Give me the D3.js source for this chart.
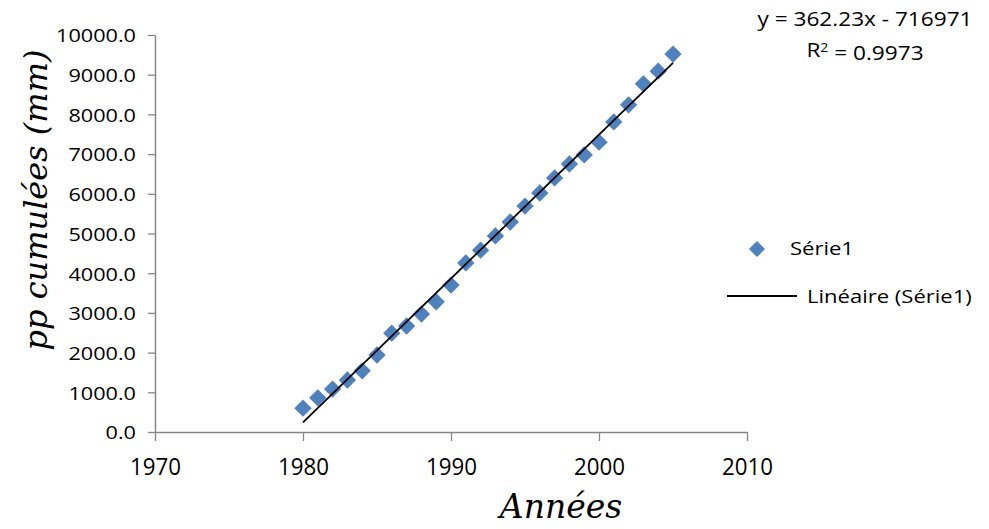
<!DOCTYPE html>
<html lang="fr">
  <head>
    <meta charset="UTF-8" />
    <title>pp cumulées</title>
    <script src="https://d3js.org/d3.v7.min.js"></script>
    <style>
      body { margin: 0; background: #fff; }
      .chart text { fill: #000; }
    </style>
  </head>
  <body>
    <div class="chart"></div>
  </body>

  <script>
    // data
    var years = [1980, 1981, 1982, 1983, 1984, 1985, 1986, 1987, 1988, 1989,
      1990, 1991, 1992, 1993, 1994, 1995, 1996, 1997, 1998, 1999,
      2000, 2001, 2002, 2003, 2004, 2005];
    var cumul = [600, 860, 1080, 1310, 1540, 1940, 2490, 2670, 2970, 3280,
      3700, 4260, 4580, 4940, 5290, 5690, 6020, 6400, 6750, 6980,
      7300, 7810, 8240, 8770, 9090, 9520];
    var xTicks = [1970, 1980, 1990, 2000, 2010];
    var yTicks = [0, 1000, 2000, 3000, 4000, 5000, 6000, 7000, 8000, 9000, 10000];
    // trend line coefficients (printed on the chart)
    var slope = 362.23, intercept = -716971, r2 = 0.9973;

    var W = 989, H = 529;
    var margin = { top: 35, left: 155, right: 242, bottom: 97 };
    var width = W - margin.left - margin.right;
    var height = H - margin.top - margin.bottom;

    var svgContainer = d3.select(".chart").append("svg")
      .attr("width", W).attr("height", H);
    var svg = svgContainer.append("g")
      .attr("transform", "translate(" + margin.left + "," + margin.top + ")");

    var x = d3.scaleLinear().domain([1970, 2010]).range([0, width]);
    var y = d3.scaleLinear().domain([0, 10000]).range([height, 0]);

    var axisColor = "#868686";
    var textFont = "'Open Sans', sans-serif";
    var wide = 1.16; // the labels in the picture are stretched sideways

    // Y axis
    var yAxis = svg.append("g")
      .call(d3.axisLeft(y).tickValues(yTicks).tickSize(7).tickSizeOuter(0)
        .tickFormat(d3.format(".1f")));
    // X axis
    var xAxis = svg.append("g")
      .attr("transform", "translate(0," + height + ")")
      .call(d3.axisBottom(x).tickValues(xTicks).tickSize(9).tickSizeOuter(0)
        .tickFormat(d3.format("d")));

    [yAxis, xAxis].forEach(function (a) {
      a.select(".domain").attr("stroke", axisColor).attr("stroke-width", 1.5);
      a.selectAll(".tick line").attr("stroke", axisColor).attr("stroke-width", 1.3);
      a.selectAll(".tick text").attr("font-family", textFont).attr("fill", "#000");
    });
    yAxis.selectAll(".tick text")
      .attr("font-size", 19)
      .attr("x", 0).attr("dy", "0.36em")
      .attr("transform", "translate(-19,0) scale(" + 1.14 + ",1)");
    xAxis.selectAll(".tick text")
      .attr("font-size", 24.5)
      .attr("y", 0).attr("dy", "0.36em")
      .attr("transform", "translate(0,34) scale(0.91,1)");

    // points as diamonds
    var diamond = d3.symbol().type(d3.symbolSquare).size(150);
    svg.selectAll(".pt")
      .data(years)
      .enter()
      .append("path")
      .attr("class", "pt")
      .attr("d", diamond)
      .attr("fill", "#4F81BD")
      .attr("transform", function (d, i) {
        return "translate(" + x(d) + "," + y(cumul[i]) + ") rotate(45)";
      });

    // trend line, over the markers
    var x0 = d3.min(years), x1 = d3.max(years);
    var trend = [[x0, slope * x0 + intercept], [x1, slope * x1 + intercept]];
    svg.append("path")
      .datum(trend)
      .attr("fill", "none")
      .attr("stroke", "#000")
      .attr("stroke-width", 1.8)
      .attr("d", d3.line().x(function (d) { return x(d[0]); })
        .y(function (d) { return y(d[1]); }));

    // axis titles
    var titleFont = "'DejaVu Serif', serif";
    svgContainer.append("text")
      .attr("transform", "translate(47,200) rotate(-90)")
      .attr("text-anchor", "middle")
      .attr("font-family", titleFont)
      .attr("font-style", "italic")
      .attr("font-size", 32)
      .text("pp cumulées (mm)");
    svgContainer.append("text")
      .attr("x", 561).attr("y", 518)
      .attr("text-anchor", "middle")
      .attr("font-family", titleFont)
      .attr("font-style", "italic")
      .attr("font-size", 33)
      .text("Années");

    // label helper: text stretched sideways around its anchor
    function label(px, py, anchor, size) {
      return svgContainer.append("text")
        .attr("transform", "translate(" + px + "," + py + ") scale(" + wide + ",1)")
        .attr("text-anchor", anchor)
        .attr("dy", "0.36em")
        .attr("font-family", textFont)
        .attr("font-size", size);
    }

    // equation
    label(865, 19, "middle", 19.5)
      .text("y = " + slope + "x - " + Math.abs(intercept));
    var r = label(865, 50, "middle", 19.5);
    r.append("tspan").text("R");
    r.append("tspan").attr("dy", "-0.4em").attr("font-size", 12).text("2");
    r.append("tspan").attr("dy", "0.4em").text(" = " + r2);

    // legend
    svgContainer.append("path")
      .attr("d", d3.symbol().type(d3.symbolSquare).size(130))
      .attr("fill", "#4F81BD")
      .attr("transform", "translate(757,249) rotate(45)");
    label(790, 248, "start", 19).text("Série1");
    svgContainer.append("line")
      .attr("x1", 727).attr("x2", 797).attr("y1", 296).attr("y2", 296)
      .attr("stroke", "#000").attr("stroke-width", 1.8);
    label(807, 296, "start", 19).text("Linéaire (Série1)");
  </script>
</html>
